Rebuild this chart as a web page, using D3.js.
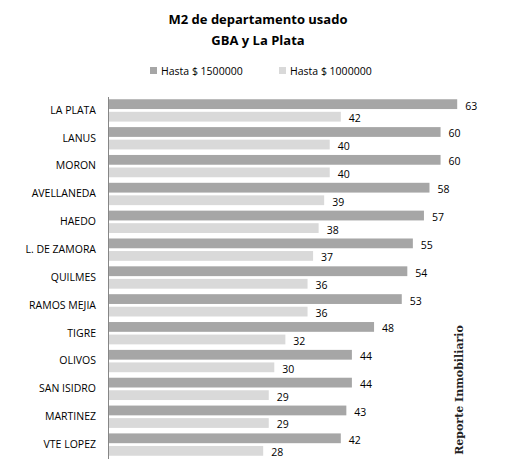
<!DOCTYPE html>
<html>
<head>
<meta charset="utf-8">
<script src="https://d3js.org/d3.v7.min.js"></script>
<style>
  body { margin: 0; background: #fff; }
  text { font-family: "Open Sans", "Noto Sans", sans-serif; fill: #000; }
</style>
</head>
<body>
<script>
// ---- data ----
var categories = ["LA PLATA", "LANUS", "MORON", "AVELLANEDA", "HAEDO", "L. DE ZAMORA",
  "QUILMES", "RAMOS MEJIA", "TIGRE", "OLIVOS", "SAN ISIDRO", "MARTINEZ", "VTE LOPEZ"]
var seriesNames = ["Hasta $ 1500000", "Hasta $ 1000000"]
var hasta1500 = [63, 60, 60, 58, 57, 55, 54, 53, 48, 44, 44, 43, 42]
var hasta1000 = [42, 40, 40, 39, 38, 37, 36, 36, 32, 30, 29, 29, 28]
var colors = ["#a6a6a6", "#d9d9d9"]

var W = 507, H = 469
var svg = d3.select("body").append("svg").attr("width", W).attr("height", H)

// title
svg.append("text").attr("x", 258).attr("y", 24).attr("text-anchor", "middle")
  .style("font-size", "13px").style("font-weight", "bold").text("M2 de departamento usado")
svg.append("text").attr("x", 258).attr("y", 45).attr("text-anchor", "middle")
  .style("font-size", "13px").style("font-weight", "bold").text("GBA y La Plata")

// legend
var legX = [150, 279]
seriesNames.forEach(function(s, i) {
  svg.append("rect").attr("x", legX[i]).attr("y", 67).attr("width", 7).attr("height", 7)
    .style("fill", colors[i])
  svg.append("text").attr("x", legX[i] + 11).attr("y", 74.5)
    .style("font-size", "10.5px").text(s)
})

// scales
var x = d3.scaleLinear().domain([0, 70]).range([108, 496])
var y = d3.scaleBand().domain(categories).range([96.5, 458.5])
var inner = d3.scaleBand().domain([0, 1]).range([0, y.bandwidth()]).paddingInner(0.22).paddingOuter(0.22)

var rows = categories.map(function(c, i) { return {cat: c, vals: [hasta1500[i], hasta1000[i]]} })

var g = svg.selectAll("g.row").data(rows).enter().append("g")
  .attr("transform", function(d) { return "translate(0," + y(d.cat) + ")" })

g.selectAll("rect").data(function(d) { return d.vals }).enter().append("rect")
  .attr("x", x(0))
  .attr("y", function(d, i) { return inner(i) })
  .attr("width", function(d) { return x(d) - x(0) })
  .attr("height", inner.bandwidth())
  .style("fill", function(d, i) { return colors[i] })

g.selectAll("text.val").data(function(d) { return d.vals }).enter().append("text")
  .attr("class", "val")
  .attr("x", function(d) { return x(d) + 8 })
  .attr("y", function(d, i) { return inner(i) + inner.bandwidth() / 2 + 5.5 })
  .style("font-size", "10.5px")
  .text(function(d) { return d })

// category axis
var yAxis = d3.axisLeft(y).tickSize(0).tickPadding(12)
var ax = svg.append("g").attr("transform", "translate(" + x(0) + ",0)").call(yAxis)
ax.select(".domain").attr("stroke", "#868686")
ax.selectAll("text").style("font-size", "10.5px").style("font-family", "'Open Sans', sans-serif")

// watermark
svg.append("text")
  .attr("transform", "translate(463,390) rotate(-90)")
  .attr("text-anchor", "middle")
  .style("font-family", "'DejaVu Serif', serif").style("font-weight", "bold")
  .style("font-size", "11px").style("fill", "#222")
  .text("Reporte Inmobiliario")
</script>
</body>
</html>
